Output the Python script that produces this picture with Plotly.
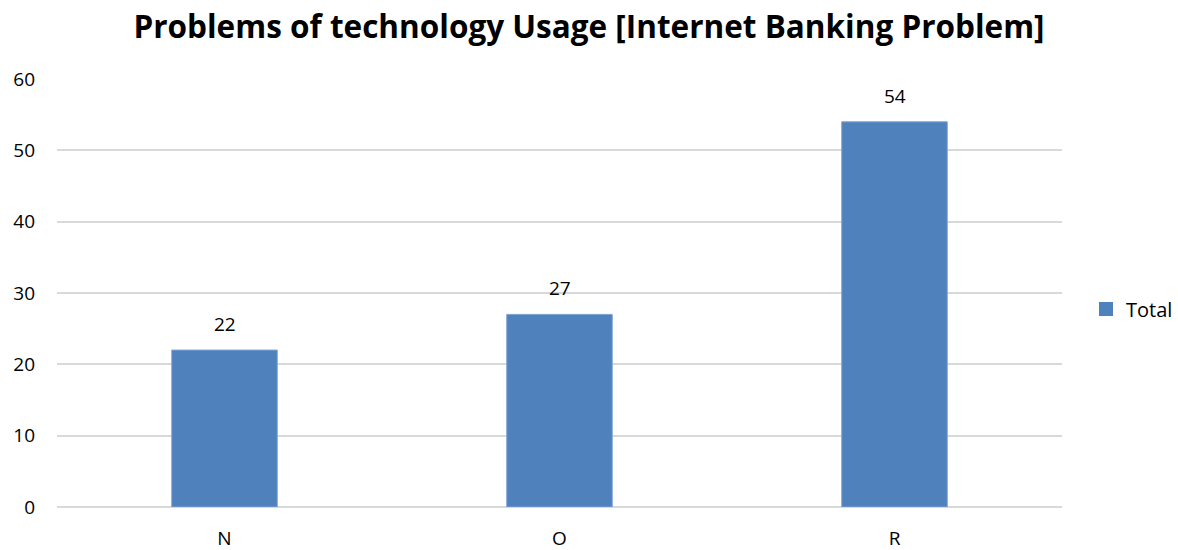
import plotly.graph_objects as go

categories = ["N", "O", "R"]
totals = [22, 27, 54]
y_ticks = [0, 10, 20, 30, 40, 50, 60]

bar_color = "#4F81BD"
grid_color = "#D9D9D9"
font_family = "Open Sans, Liberation Sans, sans-serif"

fig = go.Figure()
fig.add_trace(go.Bar(
    x=categories,
    y=totals,
    name="Total",
    width=0.315,
    marker=dict(color=bar_color, line=dict(color="#7FA3D3", width=1)),
    showlegend=False,
))

# legend entry with a larger square swatch
fig.add_trace(go.Scatter(
    x=[None], y=[None], mode="markers", name="Total",
    marker=dict(symbol="square", size=14, color=bar_color),
    showlegend=True,
))

# value labels above each bar
for cat, val in zip(categories, totals):
    fig.add_annotation(
        x=cat, y=val, text=str(val), showarrow=False,
        yanchor="bottom", yshift=11,
        font=dict(family=font_family, size=19, color="#000000"),
    )

fig.update_layout(
    width=1178, height=550,
    paper_bgcolor="white", plot_bgcolor="white",
    margin=dict(l=57, r=116, t=79, b=43),
    title=dict(
        text="<b>Problems of technology Usage [Internet Banking Problem]</b>",
        x=0.5, xanchor="center", xref="container",
        y=1 - 27 / 550, yanchor="middle",
        font=dict(family=font_family, size=31.5, color="#000000"),
    ),
    bargap=0.685,
    legend=dict(
        xref="container", yref="container",
        x=1086 / 1178, xanchor="left", y=1 - 309 / 550, yanchor="middle",
        font=dict(family=font_family, size=20, color="#000000"),
        itemwidth=30,
    ),
    xaxis=dict(
        showgrid=False, showline=False, zeroline=False,
        tickfont=dict(family=font_family, size=19, color="#000000"),
        ticks="", ticklabelstandoff=18, automargin=False,
    ),
    yaxis=dict(
        range=[0, 60], tickvals=y_ticks,
        showgrid=True, gridcolor=grid_color, gridwidth=1.5,
        zeroline=True, zerolinecolor=grid_color, zerolinewidth=1.5,
        showline=False, ticks="",
        tickfont=dict(family=font_family, size=19, color="#000000"),
        ticklabelstandoff=21, automargin=False,
    ),
)

fig.write_html("out.html")
